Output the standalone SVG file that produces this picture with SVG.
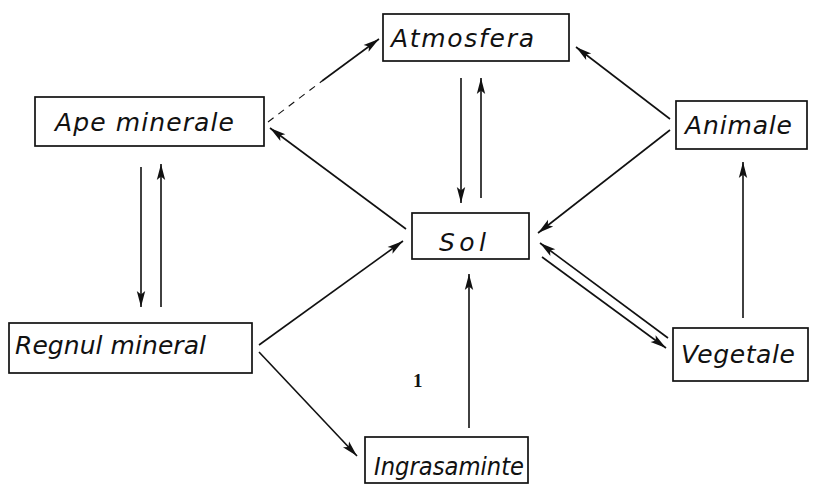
<svg xmlns="http://www.w3.org/2000/svg" width="824" height="488" viewBox="0 0 824 488">
  <defs>
    <marker id="head" markerUnits="userSpaceOnUse" markerWidth="20" markerHeight="12" viewBox="-17 -6 18 12" refX="0" refY="0" orient="auto">
      <path d="M-16,-4.2 L0,0 L-16,4.2 L-12.5,0 Z" fill="#111"/>
    </marker>
    <style>
      .box { fill: #fff; stroke: #111; stroke-width: 1.7; }
      .lbl { font-family: "DejaVu Sans", "Liberation Sans", sans-serif; font-style: italic; font-size: 25px; fill: #111; }
      .cn { fill: none; stroke: #111; stroke-width: 1.6; }
      .arr { marker-end: url(#head); }
      .faint { stroke-dasharray: 7 6; stroke-width: 1.1; }
    </style>
  </defs>

  <rect width="824" height="488" fill="#fff"/>

  <g id="connectors">
    <!-- Ape minerale -> Atmosfera (faint start) -->
    <path class="cn faint" d="M268,122 L322,81"/>
    <path class="cn arr" d="M322,81 L379,39"/>
    <!-- Sol -> Ape minerale -->
    <path class="cn arr" d="M406,229 L270,128"/>
    <!-- Animale -> Atmosfera -->
    <path class="cn arr" d="M670,119 L576,47"/>
    <!-- Animale -> Sol -->
    <path class="cn arr" d="M670,130 L538,233"/>
    <!-- Atmosfera <-> Sol -->
    <path class="cn arr" d="M461,78 L461,203"/>
    <path class="cn arr" d="M481,198 L481,78"/>
    <!-- Ape minerale <-> Regnul mineral -->
    <path class="cn arr" d="M141,167 L141,307"/>
    <path class="cn arr" d="M161,307 L161,164"/>
    <!-- Regnul mineral -> Sol -->
    <path class="cn arr" d="M259,345 L403,241"/>
    <!-- Regnul mineral -> Ingrasaminte -->
    <path class="cn arr" d="M259,352 L357,456"/>
    <!-- Ingrasaminte -> Sol -->
    <path class="cn arr" d="M469,428 L469,274"/>
    <!-- Vegetale <-> Sol -->
    <path class="cn arr" d="M668,338 L540,243"/>
    <path class="cn arr" d="M542,257 L666,348"/>
    <!-- Vegetale -> Animale -->
    <path class="cn arr" d="M743,318 L743,162"/>
  </g>

  <g id="atmosfera">
    <rect class="box" x="383" y="14" width="186" height="47"/>
    <text class="lbl" x="391" y="47" textLength="143" lengthAdjust="spacing">Atmosfera</text>
  </g>

  <g id="ape-minerale">
    <rect class="box" x="35" y="97" width="229" height="49"/>
    <text class="lbl" x="55" y="131" textLength="179" lengthAdjust="spacing">Ape minerale</text>
  </g>

  <g id="animale">
    <rect class="box" x="676" y="101" width="131" height="48"/>
    <text class="lbl" x="685" y="134" textLength="107" lengthAdjust="spacing">Animale</text>
  </g>

  <g id="sol">
    <rect class="box" x="412" y="213" width="117" height="46"/>
    <text class="lbl" x="439" y="251" font-size="27" textLength="47" lengthAdjust="spacing">Sol</text>
  </g>

  <g id="regnul-mineral">
    <rect class="box" x="9" y="323" width="243" height="50"/>
    <text class="lbl" x="15" y="354" textLength="191" lengthAdjust="spacing">Regnul mineral</text>
  </g>

  <g id="vegetale">
    <rect class="box" x="673" y="328" width="135" height="53"/>
    <text class="lbl" x="681" y="363" textLength="114" lengthAdjust="spacing">Vegetale</text>
  </g>

  <g id="ingrasaminte">
    <rect class="box" x="365" y="437" width="163" height="46"/>
    <text class="lbl" x="374" y="475" textLength="150" lengthAdjust="spacingAndGlyphs">Ingrasaminte</text>
  </g>

  <text x="413" y="387" font-family="Liberation Serif, serif" font-weight="bold" font-size="19" fill="#111">1</text>
</svg>
